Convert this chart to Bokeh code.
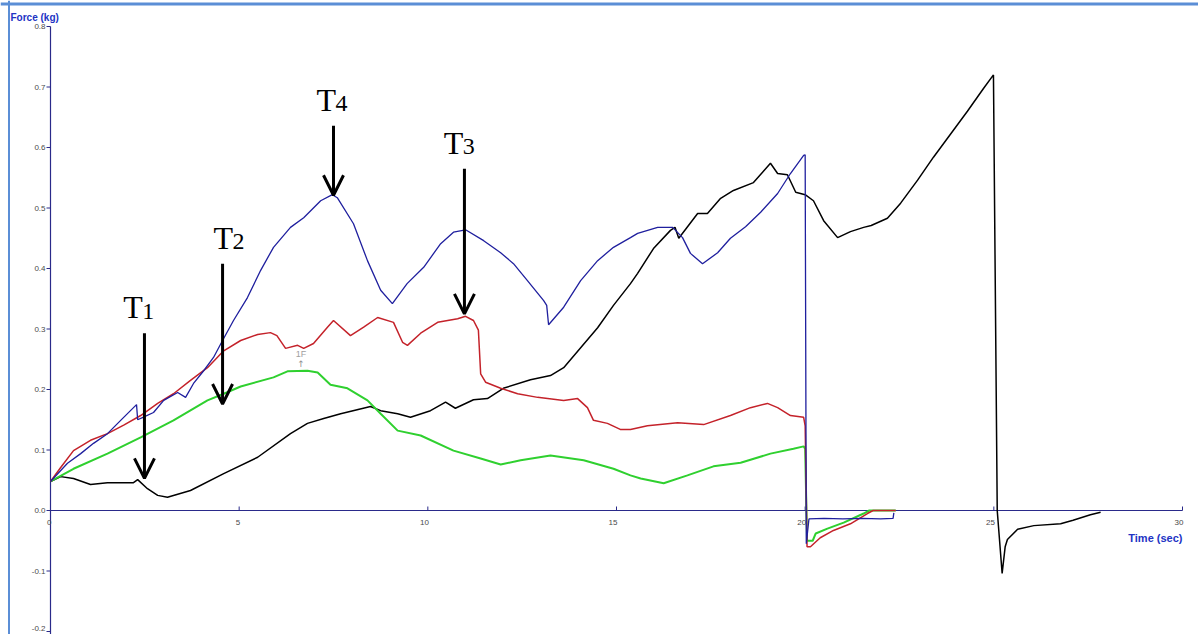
import math
from bokeh.plotting import figure
from bokeh.models import Range1d, Arrow, OpenHead, Span, ColumnDataSource
from bokeh.embed import file_html
from bokeh.resources import INLINE
from bokeh.core.properties import value

# ---------------- data ----------------
black_t = [0, 0.27, 0.61, 1.06, 1.51, 2.20, 2.31, 2.57, 2.84, 3.10, 3.71, 4.59, 5.49, 6.36,
           6.81, 7.24, 7.69, 8.48, 8.75, 9.20, 9.54, 10.07, 10.47, 10.73, 11.21, 11.58, 12.0,
           12.72, 13.25, 13.6, 14.05, 14.5, 14.92, 15.37, 15.56, 15.98, 16.43, 16.55, 16.65,
           17.15, 17.41, 17.76, 18.1, 18.63, 19.08, 19.27, 19.53, 19.75, 20.0, 20.22, 20.49,
           20.86, 21.2, 21.55, 21.75, 22.18, 22.53, 22.98, 23.4, 23.85, 24.3, 24.73, 24.99,
           25.09, 25.22, 25.3, 25.36, 25.63, 26.06, 26.77, 27.1, 27.56, 27.83]
black_f = [0.048, 0.056, 0.053, 0.043, 0.046, 0.046, 0.051, 0.036, 0.025, 0.022, 0.033, 0.061,
           0.088, 0.127, 0.144, 0.152, 0.160, 0.172, 0.165, 0.160, 0.154, 0.165, 0.179, 0.169,
           0.183, 0.185, 0.202, 0.216, 0.223, 0.236, 0.269, 0.302, 0.339, 0.375, 0.392, 0.433,
           0.463, 0.468, 0.450, 0.491, 0.491, 0.516, 0.529, 0.542, 0.574, 0.557, 0.555, 0.526,
           0.522, 0.512, 0.479, 0.451, 0.461, 0.468, 0.471, 0.483, 0.508, 0.546, 0.584, 0.622,
           0.660, 0.698, 0.720, 0.0, -0.104, -0.060, -0.048, -0.031, -0.025, -0.022, -0.016,
           -0.007, -0.003]

blue_t = [0, 0.45, 0.8, 1.14, 1.51, 1.86, 2.28, 2.31, 2.45, 2.73, 3.0, 3.37, 3.58, 3.79, 4.06,
          4.32, 4.56, 4.85, 5.22, 5.57, 5.91, 6.36, 6.71, 7.16, 7.47, 7.6, 8.03, 8.4, 8.75, 9.06,
          9.45, 9.89, 10.34, 10.68, 11.0, 11.48, 11.93, 12.27, 12.64, 13.07, 13.15, 13.2, 13.6,
          14.05, 14.5, 14.92, 15.37, 15.56, 16.09, 16.49, 16.75, 16.96, 17.28, 17.68, 18.02,
          18.42, 18.82, 19.27, 19.61, 19.96, 20.0, 20.03, 20.1, 20.5, 21.0, 21.5, 22.0, 22.33,
          22.35]
blue_f = [0.048, 0.078, 0.094, 0.111, 0.127, 0.149, 0.175, 0.150, 0.154, 0.162, 0.182, 0.195,
          0.187, 0.210, 0.231, 0.253, 0.281, 0.314, 0.352, 0.397, 0.435, 0.468, 0.484, 0.512,
          0.522, 0.517, 0.474, 0.413, 0.364, 0.342, 0.375, 0.402, 0.441, 0.460, 0.464, 0.446,
          0.426, 0.408, 0.380, 0.347, 0.339, 0.307, 0.336, 0.380, 0.413, 0.435, 0.451, 0.458,
          0.468, 0.468, 0.451, 0.425, 0.408, 0.426, 0.450, 0.469, 0.493, 0.524, 0.557, 0.587,
          0.588, -0.055, -0.014, -0.013, -0.014, -0.013, -0.014, -0.013, -0.004]

red_t = [0, 0.27, 0.61, 1.06, 1.51, 1.94, 2.39, 2.84, 3.26, 3.71, 4.16, 4.59, 5.04, 5.49, 5.83,
         6.0, 6.23, 6.55, 6.71, 6.97, 7.34, 7.5, 7.95, 8.3, 8.67, 9.09, 9.33, 9.46, 9.81, 10.26,
         10.79, 11.0, 11.21, 11.34, 11.4, 11.53, 11.93, 12.38, 12.91, 13.6, 13.97, 14.23, 14.39,
         14.76, 15.1, 15.37, 15.82, 16.62, 17.31, 18.02, 18.55, 19.0, 19.27, 19.61, 19.96, 20.0,
         20.05, 20.14, 20.4, 20.75, 21.2, 21.65, 21.8, 22.4]
red_f = [0.048, 0.071, 0.099, 0.116, 0.127, 0.141, 0.157, 0.177, 0.193, 0.215, 0.236, 0.264,
         0.281, 0.291, 0.294, 0.289, 0.268, 0.273, 0.268, 0.276, 0.303, 0.314, 0.289, 0.303,
         0.319, 0.311, 0.278, 0.273, 0.293, 0.311, 0.317, 0.321, 0.314, 0.298, 0.226, 0.212,
         0.202, 0.193, 0.187, 0.182, 0.185, 0.170, 0.149, 0.144, 0.134, 0.134, 0.140, 0.145,
         0.142, 0.157, 0.170, 0.177, 0.170, 0.157, 0.154, 0.140, -0.060, -0.060, -0.045,
         -0.033, -0.022, -0.005, 0.0, 0.0]

green_t = [0, 0.61, 1.51, 2.39, 3.26, 4.16, 4.59, 5.04, 5.91, 6.28, 6.81, 7.08, 7.42, 7.87, 8.4,
           8.75, 9.2, 9.81, 10.68, 11.4, 11.93, 12.46, 13.25, 14.13, 14.92, 15.37, 15.64, 16.25,
           16.88, 17.57, 18.29, 19.08, 19.69, 19.96, 20.0, 20.05, 20.2, 20.28, 20.59, 21.02,
           21.55, 21.7, 22.4]
green_f = [0.048, 0.069, 0.094, 0.121, 0.149, 0.182, 0.193, 0.205, 0.220, 0.230, 0.231, 0.228,
           0.208, 0.202, 0.182, 0.160, 0.132, 0.124, 0.099, 0.086, 0.076, 0.083, 0.091, 0.083,
           0.069, 0.058, 0.053, 0.045, 0.058, 0.073, 0.079, 0.094, 0.102, 0.106, 0.102, -0.050,
           -0.050, -0.038, -0.030, -0.020, -0.005, 0.0, 0.0]

x_ticks = [0, 5, 10, 15, 20, 25, 30]
x_tick_labels = ["0", "5", "10", "15", "20", "25", "30"]
y_ticks = [-0.2, -0.1, 0.0, 0.1, 0.2, 0.3, 0.4, 0.5, 0.6, 0.7, 0.8]
y_tick_labels = ["-0.2", "-0.1", "0.0", "0.1", "0.2", "0.3", "0.4", "0.5", "0.6", "0.7", "0.8"]

# annotation arrows (T markers)
t_names = ["T", "T", "T", "T"]
t_subs = ["1", "2", "4", "3"]
t_label_x = [1.93, 4.32, 7.05, 10.42]
t_label_y = [0.336, 0.451, 0.679, 0.608]
arrow_x = [2.49, 4.56, 7.50, 10.97]
arrow_y_start = [0.293, 0.408, 0.636, 0.565]
arrow_y_end = [0.053, 0.176, 0.521, 0.325]

event_x = [6.64]
event_y = [0.258]
event_text = ["1F"]

# ---------------- layout ----------------
W, H = 1198, 634
ORIGIN_PX_X, ORIGIN_PX_Y = 50, 510
PX_PER_SEC = 1132 / 30
PX_PER_KG = 605
X0 = -ORIGIN_PX_X / PX_PER_SEC
X1 = (W - ORIGIN_PX_X) / PX_PER_SEC
Y1 = ORIGIN_PX_Y / PX_PER_KG
Y0 = -(H - ORIGIN_PX_Y) / PX_PER_KG

p = figure(width=W, height=H, x_range=Range1d(X0, X1), y_range=Range1d(Y0, Y1),
           output_backend="svg", toolbar_location=None,
           x_axis_location=None, y_axis_location=None, min_border=0,
           outline_line_color=None, background_fill_color="white",
           border_fill_color="white")
p.grid.visible = False
for g in p.center:
    if hasattr(g, "grid_line_color"):
        g.grid_line_color = None

AXIS = "#2a2a8a"
TICK_TXT = "#4a4a4a"

# window border (light blue)
p.add_layout(Span(location=X0 + 8.5 / PX_PER_SEC, dimension="height",
                  line_color="#5b8ed6", line_width=2))
p.add_layout(Span(location=Y1 - 3.5 / PX_PER_KG, dimension="width",
                  line_color="#5b8ed6", line_width=3))

# y axis
p.line([0, 0], [Y0, max(y_ticks)], line_color=AXIS, line_width=1.2)
p.ray(x=[0] * len(y_ticks), y=y_ticks, length=4, length_units="screen",
      angle=math.pi, line_color=AXIS, line_width=1)
y_label_offsets = [-3 if v == min(y_ticks) else 0 for v in y_ticks]
p.text(x=[0] * len(y_ticks), y=y_ticks, text=y_tick_labels, x_offset=-5,
       y_offset=y_label_offsets,
       text_align="right", text_baseline="middle", text_font=value("Liberation Sans"),
       text_font_size="8px", text_color=TICK_TXT)

# x axis
p.line([min(x_ticks), max(x_ticks)], [0, 0], line_color=AXIS, line_width=1.2)
p.ray(x=x_ticks, y=[0] * len(x_ticks), length=4, length_units="screen",
      angle=math.pi / 2, line_color=AXIS, line_width=1)
p.text(x=x_ticks, y=[0] * len(x_ticks), text=x_tick_labels, x_offset=1, y_offset=12,
       text_align="right", text_baseline="middle", text_font=value("Liberation Sans"),
       text_font_size="8px", text_color=TICK_TXT)

# axis titles
p.text(x=[X0 + 10 / PX_PER_SEC], y=[Y1 - 17 / PX_PER_KG], text=["Force (kg)"],
       text_align="left", text_baseline="alphabetic", text_font=value("Liberation Sans"),
       text_font_style="bold", text_font_size="10px", text_color="#2233c4")
p.text(x=[max(x_ticks)], y=[0], y_offset=27, text=["Time (sec)"],
       text_align="right", text_baseline="alphabetic", text_font=value("Liberation Sans"),
       text_font_style="bold", text_font_size="11px", text_color="#2233c4")

# data series
p.line(black_t, black_f, line_color="#000000", line_width=1.5)
p.line(green_t, green_f, line_color="#2fd02f", line_width=2)
p.line(red_t, red_f, line_color="#c4222a", line_width=1.5)
p.line(blue_t, blue_f, line_color="#1f1f9e", line_width=1.3)

# event marker
p.text(x=event_x, y=event_y, text=event_text, text_align="center", text_baseline="middle",
       text_font=value("Liberation Sans"), text_font_size="9px", text_color="#a0a0a0")
p.text(x=event_x, y=event_y, text=["\u2191"], y_offset=10, text_align="center",
       text_baseline="middle", text_font=value("DejaVu Sans"), text_font_size="9px",
       text_color="#909090")

# T labels and arrows
p.text(x=t_label_x, y=t_label_y, text=t_names, text_align="left", text_baseline="alphabetic",
       text_font=value("Liberation Serif"), text_font_size="32px", text_color="black")
p.text(x=t_label_x, y=t_label_y, text=t_subs, x_offset=19, y_offset=4, text_align="left",
       text_baseline="alphabetic", text_font=value("Liberation Serif"),
       text_font_size="24px", text_color="black")

arrow_src = ColumnDataSource(dict(x0=arrow_x, y0=arrow_y_start, x1=arrow_x, y1=arrow_y_end))
p.add_layout(Arrow(source=arrow_src, x_start="x0", y_start="y0", x_end="x1", y_end="y1",
                   line_width=3, line_color="black",
                   end=OpenHead(size=20, line_width=3, line_color="black")))

open("out.html", "w").write(file_html(p, INLINE))
